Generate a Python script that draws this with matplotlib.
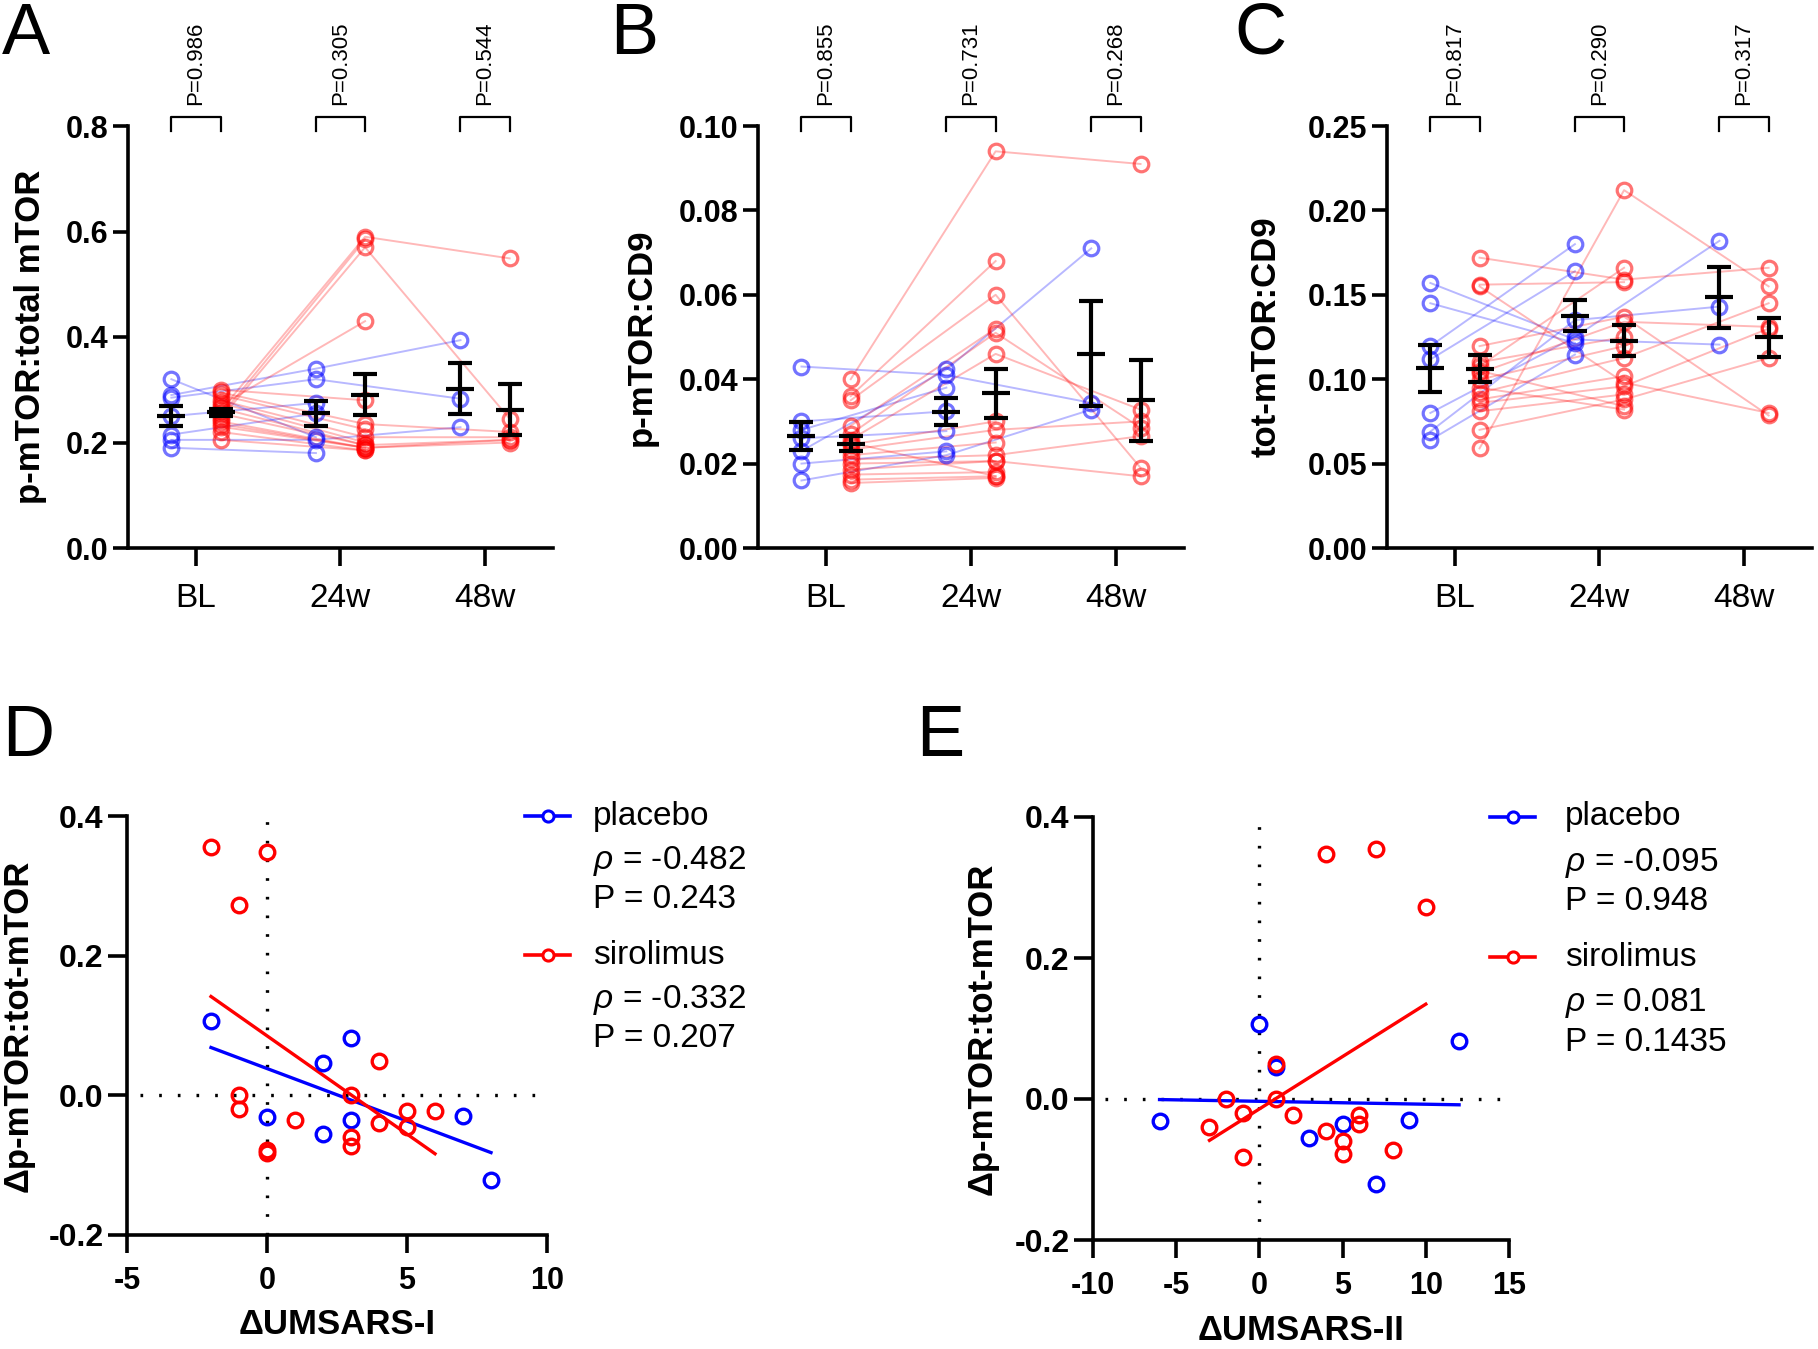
import matplotlib.pyplot as plt
import numpy as np
from matplotlib.transforms import blended_transform_factory

plt.rcParams['font.family'] = ['Liberation Sans', 'DejaVu Sans']
plt.rcParams['mathtext.fontset'] = 'custom'
plt.rcParams['mathtext.rm'] = 'Liberation Sans'
plt.rcParams['mathtext.it'] = 'Liberation Sans:italic'
plt.rcParams['mathtext.bf'] = 'Liberation Sans:bold'
plt.rcParams['axes.unicode_minus'] = False

BLUE = '#0000ff'
RED = '#ff0000'
nan = float('nan')

timepoints = ['BL', '24w', '48w']

# A: p-mTOR:total mTOR, one row per subject = [BL, 24w, 48w]
a_placebo = [
    [0.32, 0.21, nan],
    [0.29, 0.34, 0.394],
    [0.285, 0.32, 0.283],
    [0.25, 0.275, nan],
    [0.215, 0.255, nan],
    [0.205, 0.205, 0.229],
    [0.19, 0.18, nan],
]
a_sirolimus = [
    [0.26, 0.59, 0.549],
    [0.25, 0.585, nan],
    [0.245, 0.57, 0.245],
    [0.27, 0.43, nan],
    [0.30, 0.28, nan],
    [0.295, 0.235, 0.22],
    [0.29, 0.225, nan],
    [0.28, 0.21, 0.21],
    [0.275, 0.2, nan],
    [0.265, 0.195, 0.205],
    [0.255, 0.195, nan],
    [0.24, 0.19, 0.205],
    [0.235, 0.19, nan],
    [0.23, 0.19, 0.20],
    [0.22, 0.185, nan],
    [0.205, 0.185, nan],
]
a_pvals = ['P=0.986', 'P=0.305', 'P=0.544']

# B: p-mTOR:CD9
b_placebo = [
    [0.043, 0.041, 0.0344],
    [0.030, 0.0324, nan],
    [0.028, 0.038, nan],
    [0.026, 0.0277, nan],
    [0.023, 0.0423, 0.071],
    [0.020, 0.0229, nan],
    [0.016, 0.022, 0.0328],
]
b_sirolimus = [
    [0.040, 0.094, 0.091],
    [0.036, 0.068, nan],
    [0.035, 0.060, 0.019],
    [0.029, 0.052, nan],
    [0.027, 0.051, 0.0285],
    [0.0257, 0.046, 0.0328],
    [0.0245, 0.030, nan],
    [0.0233, 0.028, 0.030],
    [0.022, 0.025, nan],
    [0.021, 0.022, 0.0265],
    [0.020, 0.0206, nan],
    [0.0186, 0.0206, 0.017],
    [0.0174, 0.018, nan],
    [0.0162, 0.017, nan],
    [0.0154, 0.0166, nan],
    [0.025, 0.017, nan],
]
b_pvals = ['P=0.855', 'P=0.731', 'P=0.268']

# C: tot-mTOR:CD9
c_placebo = [
    [0.157, 0.1235, 0.1205],
    [0.145, 0.1215, nan],
    [0.1196, 0.180, nan],
    [0.1117, 0.164, nan],
    [0.080, 0.125, 0.182],
    [0.069, 0.135, 0.143],
    [0.064, 0.1146, nan],
]
c_sirolimus = [
    [0.059, 0.212, 0.155],
    [0.172, 0.159, 0.166],
    [0.156, 0.1575, nan],
    [0.155, 0.098, 0.080],
    [0.1196, 0.137, 0.0785],
    [0.1077, 0.166, nan],
    [0.1037, 0.134, 0.131],
    [0.0998, 0.1196, nan],
    [0.0919, 0.1126, 0.145],
    [0.088, 0.1018, nan],
    [0.086, 0.0958, 0.130],
    [0.081, 0.091, nan],
    [0.070, 0.088, 0.1126],
    [0.105, 0.084, nan],
    [0.095, 0.082, nan],
    [0.11, 0.125, nan],
]
c_pvals = ['P=0.817', 'P=0.290', 'P=0.317']

# D / E: change in p-mTOR:tot-mTOR vs change in UMSARS
placebo_dy = [0.106, 0.046, 0.082, -0.031, -0.056, -0.035, -0.030, -0.121]
placebo_umsars1 = [-2, 2, 3, 0, 2, 3, 7, 8]
placebo_umsars2 = [0, 1, 12, -6, 3, 5, 9, 7]
sirolimus_dy = [0.355, 0.348, 0.273, 0.049, 0.0, 0.0, -0.0195, -0.078,
                -0.082, -0.036, -0.059, -0.072, -0.040, -0.022, -0.046, -0.023]
sirolimus_umsars1 = [-2, 0, -1, 4, -1, 3, -1, 0, 0, 1, 3, 3, 4, 5, 5, 6]
sirolimus_umsars2 = [7, 4, 10, 1, -2, 1, -1, 5, -1, 6, 5, 8, -3, 2, 4, 6]
d_stats = [('placebo', '-0.482', '0.243'), ('sirolimus', '-0.332', '0.207')]
e_stats = [('placebo', '-0.095', '0.948'), ('sirolimus', '0.081', '0.1435')]

W, H = 1818, 1349
fig = plt.figure(figsize=(W / 100, H / 100), dpi=100)


def add_ax(left, top, right, bottom):
    # box in pixels of the output image
    return fig.add_axes([left / W, 1 - bottom / H, (right - left) / W, (bottom - top) / H])


def style(ax):
    for s in ('top', 'right'):
        ax.spines[s].set_visible(False)
    for s in ('left', 'bottom'):
        ax.spines[s].set_linewidth(2.6)
    ax.tick_params(width=2.6, direction='out')
    ax.tick_params(axis='y', length=11, pad=3)
    ax.tick_params(axis='x', length=13, pad=9)


def paired_panel(ax, placebo, sirolimus, yticks, fmt, ylabel, pvals, ylab_x):
    x = np.arange(len(timepoints))
    off = 0.17
    for rows, dx, col in ((placebo, -off, BLUE), (sirolimus, off, RED)):
        arr = np.array(rows, dtype=float)
        xs = x + dx
        for r in arr:
            ax.plot(xs, r, color=col, alpha=0.28, lw=1.4, zorder=1)
            ax.plot(xs, r, ls='none', marker='o', ms=10.5, mfc='none', mec=col,
                    mew=2.3, alpha=0.55, zorder=2)
        n = np.sum(~np.isnan(arr), axis=0)
        mean = np.nanmean(arr, axis=0)
        sem = np.nanstd(arr, axis=0, ddof=1) / np.sqrt(n)
        ax.errorbar(xs, mean, yerr=sem, fmt='none', ecolor='k', elinewidth=3,
                    capsize=8.5, capthick=3, zorder=5)
        ax.plot(xs, mean, ls='none', marker='_', ms=20, mew=3, color='k', zorder=5)

    style(ax)
    ax.tick_params(axis='x', pad=12)
    ax.set_xlim(-0.47, 2.47)
    ax.set_ylim(yticks[0], yticks[-1])
    ax.set_xticks(x, timepoints, fontsize=24)
    ax.set_yticks(yticks, [fmt.format(t) for t in yticks], fontsize=22, fontweight='bold')
    ax.set_ylabel(ylabel, fontsize=25, fontweight='bold')
    ax.yaxis.set_label_coords(ylab_x, 0.5)

    trans = blended_transform_factory(ax.transData, ax.transAxes)
    for i, p in enumerate(pvals):
        ax.plot([i - off, i - off, i + off, i + off], [0.988, 1.021, 1.021, 0.988],
                transform=trans, color='k', lw=1.6, clip_on=False)
        ax.text(i, 1.05, p, transform=trans, rotation=90, ha='center', va='bottom',
                fontsize=16)


def scatter_panel(ax, xp, xs, xticks, xlabel, stats, ylab_x, leg):
    dots = (0, (0.8, 4.8))
    ax.axhline(0, xmin=0.03, xmax=0.99, color='k', ls=dots, lw=2.4, zorder=0)
    ax.axvline(0, color='k', ls=dots, lw=2.4, zorder=0)
    for x, y, col in ((xp, placebo_dy, BLUE), (xs, sirolimus_dy, RED)):
        x = np.array(x, dtype=float)
        y = np.array(y, dtype=float)
        ax.plot(x, y, ls='none', marker='o', ms=10.5, mfc='none', mec=col, mew=2.4, zorder=3)
        k, b = np.polyfit(x, y, 1)
        xx = np.array([x.min(), x.max()])
        ax.plot(xx, k * xx + b, color=col, lw=2.4, zorder=2)

    style(ax)
    ax.tick_params(axis='y', length=14)
    ax.set_xlim(xticks[0], xticks[-1])
    ax.set_ylim(-0.2, 0.4)
    ax.set_xticks(xticks, [str(t) for t in xticks], fontsize=22, fontweight='bold')
    yt = [-0.2, 0.0, 0.2, 0.4]
    ax.set_yticks(yt, ['{:.1f}'.format(t) for t in yt], fontsize=23, fontweight='bold')
    ax.set_ylabel('Δp-mTOR:tot-mTOR', fontsize=25, fontweight='bold')
    ax.yaxis.set_label_coords(ylab_x, 0.5)
    ax.set_xlabel(xlabel, fontsize=25, fontweight='bold')
    ax.xaxis.set_label_coords(0.5, -0.175)

    # legend-like block to the right of the plot
    hx0, hx1, tx = leg
    rows_y = [(1.0, 0.892, 0.8), (0.668, 0.56, 0.468)]
    for (name, rho, p), col, (y0, y1, y2) in zip(stats, (BLUE, RED), rows_y):
        ax.plot([hx0, hx1], [y0, y0], transform=ax.transAxes, color=col, lw=2.6,
                clip_on=False)
        ax.plot([(hx0 + hx1) / 2], [y0], transform=ax.transAxes, marker='o', ms=8,
                mfc='white', mec=col, mew=2.2, clip_on=False)
        ax.text(tx, y0, name, transform=ax.transAxes, fontsize=24, va='center')
        ax.text(tx, y1, r'$\rho$ = ' + rho, transform=ax.transAxes, fontsize=24, va='center')
        ax.text(tx, y2, 'P = ' + p, transform=ax.transAxes, fontsize=24, va='center')


ax_a = add_ax(128, 126, 553, 548)
paired_panel(ax_a, a_placebo, a_sirolimus, [0.0, 0.2, 0.4, 0.6, 0.8], '{:.1f}',
             'p-mTOR:total mTOR', a_pvals, -0.19)

ax_b = add_ax(758, 126, 1184, 548)
paired_panel(ax_b, b_placebo, b_sirolimus, [0.0, 0.02, 0.04, 0.06, 0.08, 0.10], '{:.2f}',
             'p-mTOR:CD9', b_pvals, -0.235)

ax_c = add_ax(1387, 126, 1812, 548)
paired_panel(ax_c, c_placebo, c_sirolimus, [0.0, 0.05, 0.10, 0.15, 0.20, 0.25], '{:.2f}',
             'tot-mTOR:CD9', c_pvals, -0.245)

ax_d = add_ax(127, 816, 547, 1235)
scatter_panel(ax_d, placebo_umsars1, sirolimus_umsars1, [-5, 0, 5, 10], 'ΔUMSARS-I',
              d_stats, -0.22, (0.948, 1.055, 1.11))

ax_e = add_ax(1093, 817, 1509, 1240)
scatter_panel(ax_e, placebo_umsars2, sirolimus_umsars2, [-10, -5, 0, 5, 10, 15], 'ΔUMSARS-II',
              e_stats, -0.226, (0.954, 1.063, 1.135))

for letter, px, py in (('A', 2, 2), ('B', 610, 2), ('C', 1234, 2), ('D', 2, 704), ('E', 916, 704)):
    fig.text(px / W, 1 - py / H, letter, fontsize=52, ha='left', va='top')

fig.savefig('out.png', dpi=100)
